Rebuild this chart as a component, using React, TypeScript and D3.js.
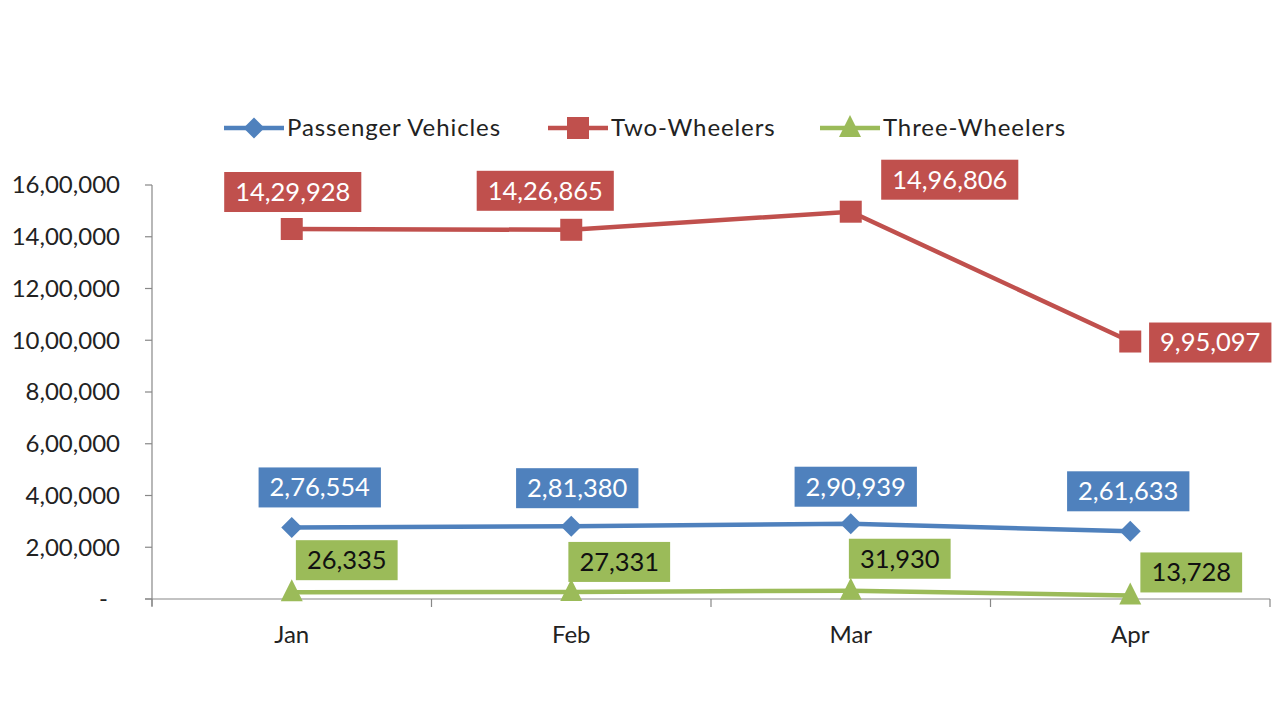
import React, { useEffect, useRef } from "react";
import * as d3 from "d3";

const months = ["Jan", "Feb", "Mar", "Apr"];
const passengerVehicles = [276554, 281380, 290939, 261633];
const twoWheelers = [1429928, 1426865, 1496806, 995097];
const threeWheelers = [26335, 27331, 31930, 13728];
const yTicks = [0, 200000, 400000, 600000, 800000, 1000000, 1200000, 1400000, 1600000];
const seriesNames = ["Passenger Vehicles", "Two-Wheelers", "Three-Wheelers"];

// label placement offsets (layout)
const labelOffsets = [
  [[28, -40], [6, -38], [5, -37], [-2, -40]],
  [[1, -37], [-26, -39], [99, -32], [80, 1]],
  [[55, -32], [48, -30], [49, -32], [61, -23]],
];

const colors = ["#4F81BD", "#C0504D", "#9BBB59"];
const FONT = "Lato, 'Open Sans', sans-serif";

function fmtIndian(v: number): string {
  if (v === 0) return "-";
  const s = Math.round(v).toString();
  if (s.length <= 3) return s;
  const last3 = s.slice(-3);
  let rest = s.slice(0, -3);
  const parts: string[] = [];
  while (rest.length > 2) {
    parts.unshift(rest.slice(-2));
    rest = rest.slice(0, -2);
  }
  if (rest) parts.unshift(rest);
  return parts.join(",") + "," + last3;
}

export default function App() {
  const ref = useRef<SVGSVGElement>(null);
  useEffect(() => {
    const svg = d3.select(ref.current);
    svg.selectAll("*").remove();
    const W = 1280, H = 723;
    const left = 152, right = 1270, top = 185, bottom = 599;
    const x = d3.scaleBand().domain(months).range([left, right]);
    const y = d3.scaleLinear().domain([0, 1600000]).range([bottom, top]);
    svg.append("rect").attr("width", W).attr("height", H).attr("fill", "#fff");

    // y axis
    svg.append("line").attr("x1", left).attr("x2", left).attr("y1", top).attr("y2", bottom + 7)
      .attr("stroke", "#888").attr("stroke-width", 1.2);
    yTicks.forEach((t) => {
      svg.append("line").attr("x1", left - 7).attr("x2", left).attr("y1", y(t)).attr("y2", y(t))
        .attr("stroke", "#888").attr("stroke-width", 1.2);
      svg.append("text").attr("x", t === 0 ? 108 : 120).attr("y", y(t)).attr("dy", "0.35em")
        .attr("text-anchor", "end").attr("font-family", FONT).attr("font-size", 24)
        .attr("fill", "#222").text(fmtIndian(t));
    });
    // x axis
    svg.append("line").attr("x1", left - 7).attr("x2", right).attr("y1", bottom).attr("y2", bottom)
      .attr("stroke", "#888").attr("stroke-width", 1.2);
    const edges = months.map((m) => x(m)!).concat([right]);
    edges.forEach((e) => {
      svg.append("line").attr("x1", e).attr("x2", e).attr("y1", bottom).attr("y2", bottom + 8)
        .attr("stroke", "#888").attr("stroke-width", 1.2);
    });
    months.forEach((m) => {
      svg.append("text").attr("x", x(m)! + x.bandwidth() / 2).attr("y", 635).attr("dy", "0.35em")
        .attr("text-anchor", "middle").attr("font-family", FONT).attr("font-size", 24)
        .attr("fill", "#222").text(m);
    });

    const all = [passengerVehicles, twoWheelers, threeWheelers];
    const cx = (m: string) => x(m)! + x.bandwidth() / 2;

    const marker = (g: any, si: number, px: number, py: number) => {
      if (si === 0) {
        const s = 10.5;
        g.append("path").attr("d", `M${px},${py - s}L${px + s},${py}L${px},${py + s}L${px - s},${py}Z`)
          .attr("fill", colors[0]);
      } else if (si === 1) {
        g.append("rect").attr("x", px - 11).attr("y", py - 11).attr("width", 22).attr("height", 22)
          .attr("fill", colors[1]);
      } else {
        g.append("path").attr("d", `M${px},${py - 13}L${px + 11},${py + 9}L${px - 11},${py + 9}Z`)
          .attr("fill", colors[2]);
      }
    };

    all.forEach((vals, si) => {
      const line = d3.line<number>().x((_, i) => cx(months[i])).y((d) => y(d));
      svg.append("path").datum(vals).attr("d", line).attr("fill", "none")
        .attr("stroke", colors[si]).attr("stroke-width", 4.5);
      vals.forEach((v, i) => marker(svg, si, cx(months[i]), y(v)));
    });

    // labels
    all.forEach((vals, si) => {
      vals.forEach((v, i) => {
        const px = cx(months[i]) + labelOffsets[si][i][0];
        const py = y(v) + labelOffsets[si][i][1];
        const g = svg.append("g");
        const rect = g.append("rect").attr("fill", colors[si]);
        const t = g.append("text").attr("x", px).attr("y", py).attr("dy", "0.35em")
          .attr("text-anchor", "middle").attr("font-family", FONT).attr("font-size", 25.5)
          .attr("fill", si === 2 ? "#111" : "#fff").text(fmtIndian(v));
        const w = (t.node() as SVGTextElement).getComputedTextLength() + 22;
        rect.attr("x", px - w / 2).attr("y", py - 20).attr("width", w).attr("height", 40);
      });
    });

    // legend
    const legendX = [224, 548, 820];
    seriesNames.forEach((n, si) => {
      const lx = legendX[si], ly = 128;
      svg.append("line").attr("x1", lx).attr("x2", lx + 60).attr("y1", ly).attr("y2", ly)
        .attr("stroke", colors[si]).attr("stroke-width", 4.5);
      marker(svg, si, lx + 30, ly);
      svg.append("text").attr("x", lx + 63).attr("y", ly).attr("dy", "0.35em")
        .attr("font-family", FONT).attr("font-size", 24).attr("letter-spacing", 0.9)
        .attr("fill", "#222").text(n);
    });
  }, []);
  return <svg ref={ref} width={1280} height={723} style={{ display: "block", margin: "-8px" }} />;
}
